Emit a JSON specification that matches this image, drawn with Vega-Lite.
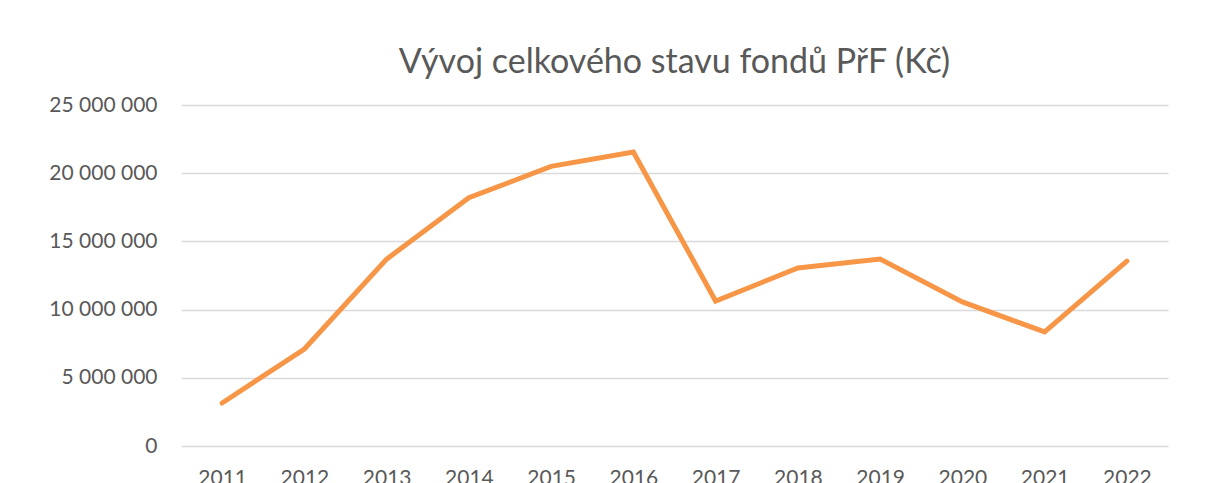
{
  "$schema": "https://vega.github.io/schema/vega-lite/v6.json",
  "autosize": "none",
  "width": 987,
  "height": 341,
  "padding": {"left": 181, "top": 105, "right": 43, "bottom": 37},
  "background": "white",
  "title": {
    "text": "Vývoj celkového stavu fondů PřF (Kč)",
    "font": "Lato",
    "fontSize": 34,
    "fontWeight": "normal",
    "color": "#595959",
    "anchor": "middle",
    "offset": 14
  },
  "data": {
    "values": [
      {"rok": "2011", "stav": 3150000},
      {"rok": "2012", "stav": 7110000},
      {"rok": "2013", "stav": 13700000},
      {"rok": "2014", "stav": 18200000},
      {"rok": "2015", "stav": 20500000},
      {"rok": "2016", "stav": 21550000},
      {"rok": "2017", "stav": 10630000},
      {"rok": "2018", "stav": 13050000},
      {"rok": "2019", "stav": 13700000},
      {"rok": "2020", "stav": 10560000},
      {"rok": "2021", "stav": 8360000},
      {"rok": "2022", "stav": 13560000}
    ]
  },
  "mark": {"type": "line", "color": "#F79646", "strokeWidth": 5, "strokeCap": "round", "strokeJoin": "miter"},
  "encoding": {
    "x": {
      "field": "rok",
      "type": "ordinal",
      "title": null,
      "axis": {
        "labelAngle": 0,
        "domain": false,
        "ticks": false,
        "grid": false,
        "labelFont": "Lato",
        "labelFontSize": 21,
        "labelColor": "#595959",
        "labelPadding": 21
      }
    },
    "y": {
      "field": "stav",
      "type": "quantitative",
      "title": null,
      "scale": {"domain": [0, 25000000], "nice": false},
      "axis": {
        "values": [0, 5000000, 10000000, 15000000, 20000000, 25000000],
        "labelExpr": "replace(format(datum.value, ','), regexp(',', 'g'), ' ')",
        "domain": false,
        "ticks": false,
        "grid": true,
        "gridColor": "#d9d9d9",
        "gridWidth": 1.5,
        "labelFont": "Lato",
        "labelFontSize": 21,
        "labelColor": "#595959",
        "labelPadding": 24
      }
    }
  },
  "config": {"view": {"stroke": null}}
}
